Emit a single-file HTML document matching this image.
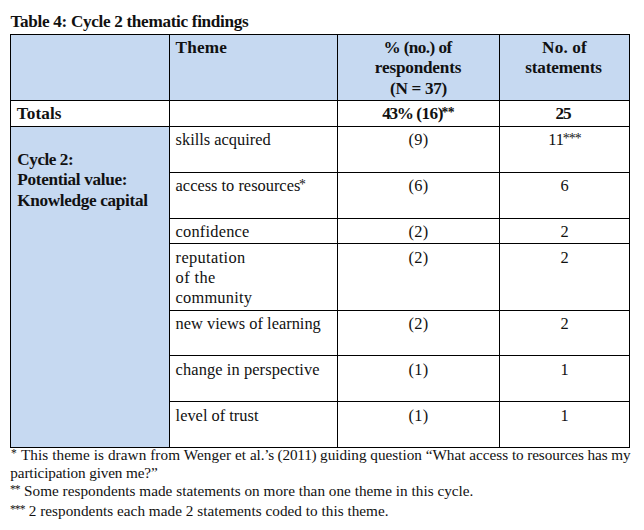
<!DOCTYPE html>
<html lang="en">
<head>
<meta charset="utf-8">
<title>Table 4: Cycle 2 thematic findings</title>
<style>
html,body{margin:0;padding:0;background:#fff;}
body{width:644px;height:530px;overflow:hidden;position:relative;
  font-family:"Liberation Serif","DejaVu Serif",serif;font-size:16.4px;color:#111;line-height:20px;}
.cap{position:absolute;left:10.5px;top:12px;margin:0;font-size:17.2px;font-weight:bold;white-space:nowrap;line-height:20px;letter-spacing:-0.33px;}
table{position:absolute;left:10px;top:34px;border-collapse:separate;border-spacing:0;table-layout:fixed;
  width:620px;border-right:1px solid #000;border-bottom:1px solid #000;}
td,th{box-sizing:border-box;border-left:1px solid #000;border-top:1px solid #000;padding:3px 0 0 0;vertical-align:top;
  font-weight:normal;text-align:left;overflow:hidden;white-space:nowrap;}
.c1{width:159px}.c2{width:168px}.c3{width:162px}.c4{width:130px}
.bl{background:#c6d9f1;}
.b{font-weight:bold;font-size:17.2px;}
.ctr{text-align:center;}
td.l1,th.l1{padding-left:6.3px;}
td.l2,th.l2{padding-left:5.6px;}
td div,th div{height:20px;line-height:20px;}
/* small raised asterisks (table body) */
.a{font-size:13.7px;position:relative;top:-2px;letter-spacing:-0.8px;margin-left:-1.3px;}
.fn{position:absolute;left:11px;margin:0;font-size:15.22px;line-height:18px;white-space:nowrap;}
.fa{font-size:11.5px;position:relative;top:-3.5px;letter-spacing:-0.9px;margin-right:1.3px;}
</style>
</head>
<body>
<p class="cap">Table 4: Cycle 2 thematic findings</p>
<table>
<colgroup><col class="c1"><col class="c2"><col class="c3"><col class="c4"></colgroup>
<tr style="height:66px">
  <th class="bl c1"></th>
  <th class="bl b l2"><div style="letter-spacing:0.2px">Theme</div></th>
  <th class="bl b ctr"><div style="letter-spacing:-0.58px;position:relative;left:-1px">% (no.) of</div><div style="height:21px;letter-spacing:-0.2px;position:relative;left:-0.5px">respondents</div><div style="letter-spacing:-0.32px">(N = 37)</div></th>
  <th class="bl b ctr"><div style="letter-spacing:0.14px">No. of</div><div style="letter-spacing:-0.16px;position:relative;left:-1px">statements</div></th>
</tr>
<tr style="height:26px">
  <td class="b l1"><div style="letter-spacing:0.1px;position:relative;left:-0.5px">Totals</div></td>
  <td></td>
  <td class="b ctr"><div style="letter-spacing:-0.5px;position:relative;left:-0.5px"><span style="letter-spacing:-1.4px">43%</span> (16)<span class="a">**</span></div></td>
  <td class="b ctr"><div style="letter-spacing:-1.2px;position:relative;left:-1.5px">25</div></td>
</tr>
<tr style="height:46px">
  <td class="bl b l1" rowspan="7" style="padding-top:23px"><div style="letter-spacing:-0.46px">Cycle 2:</div><div style="height:21px;letter-spacing:-0.32px">Potential value:</div><div style="letter-spacing:-0.34px">Knowledge capital</div></td>
  <td class="l2"><div>skills acquired</div></td>
  <td class="ctr"><div style="letter-spacing:0.3px">(9)</div></td>
  <td class="ctr"><div>11<span class="a">***</span></div></td>
</tr>
<tr style="height:46px">
  <td class="l2"><div>access to resources<span class="a">*</span></div></td>
  <td class="ctr"><div style="letter-spacing:0.3px">(6)</div></td>
  <td class="ctr"><div>6</div></td>
</tr>
<tr style="height:25px">
  <td class="l2"><div style="letter-spacing:0.2px">confidence</div></td>
  <td class="ctr"><div style="letter-spacing:0.3px">(2)</div></td>
  <td class="ctr"><div>2</div></td>
</tr>
<tr style="height:67px">
  <td class="l2" style="padding-top:4px"><div style="letter-spacing:0.35px">reputation</div><div style="letter-spacing:0.4px">of the</div><div style="letter-spacing:0.2px">community</div></td>
  <td class="ctr" style="padding-top:4px"><div style="letter-spacing:0.3px">(2)</div></td>
  <td class="ctr" style="padding-top:4px"><div>2</div></td>
</tr>
<tr style="height:45px">
  <td class="l2"><div>new views of learning</div></td>
  <td class="ctr"><div style="letter-spacing:0.3px">(2)</div></td>
  <td class="ctr"><div>2</div></td>
</tr>
<tr style="height:46px">
  <td class="l2" style="padding-top:4px"><div style="letter-spacing:0.1px">change in perspective</div></td>
  <td class="ctr" style="padding-top:4px"><div style="letter-spacing:0.3px">(1)</div></td>
  <td class="ctr" style="padding-top:4px"><div>1</div></td>
</tr>
<tr style="height:46px">
  <td class="l2" style="padding-top:4px"><div>level of trust</div></td>
  <td class="ctr" style="padding-top:4px"><div style="letter-spacing:0.3px">(1)</div></td>
  <td class="ctr" style="padding-top:4px"><div>1</div></td>
</tr>
</table>
<p class="fn" style="top:446px"><span class="fa">*</span> <span style="letter-spacing:0.08px">This theme is drawn from Wenger et </span><span style="letter-spacing:-0.2px">al.’s (2011) </span>guiding question “What access <span style="letter-spacing:-0.1px">to resources has my</span></p>
<p class="fn" style="top:464px;left:10.3px;letter-spacing:-0.13px">participation given me?”</p>
<p class="fn" style="top:482px;left:10px;letter-spacing:0.02px"><span class="fa" style="margin-right:0.5px">**</span> Some respondents made statements on more than one theme in this cycle.</p>
<p class="fn" style="top:502px;left:10px;letter-spacing:0.025px"><span class="fa" style="margin-right:0.4px">***</span> 2 respondents each made 2 statements coded to this theme.</p>
</body>
</html>
